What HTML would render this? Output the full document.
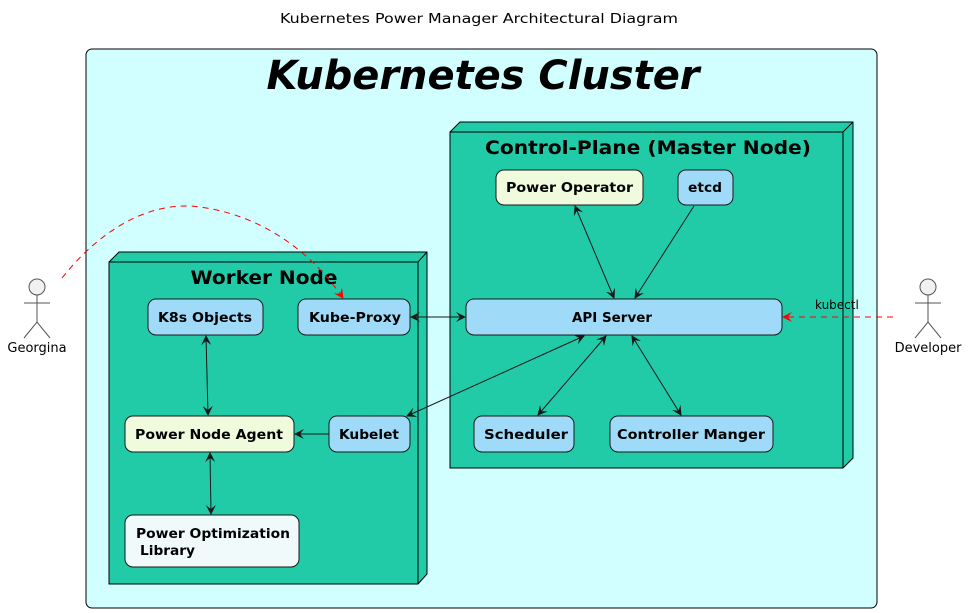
<!DOCTYPE html>
<html><head><meta charset="utf-8"><style>
html,body{margin:0;padding:0;background:#fff;width:971px;height:613px;overflow:hidden}
svg{display:block}
text{font-family:"DejaVu Sans","Liberation Sans",sans-serif}
.b{font-weight:bold;font-size:13px;fill:#000}
</style></head><body>
<svg width="971" height="613" viewBox="0 0 971 613" xmlns="http://www.w3.org/2000/svg">
<defs>
<marker id="a" viewBox="0 0 10 10" refX="9" refY="5" markerWidth="10" markerHeight="10" orient="auto-start-reverse" markerUnits="userSpaceOnUse"><path d="M0,0 L10,5 L0,10 L4,5 Z" fill="#181818"/></marker>
<marker id="r" viewBox="0 0 10 10" refX="9" refY="5" markerWidth="10" markerHeight="10" orient="auto" markerUnits="userSpaceOnUse"><path d="M0,0 L10,5 L0,10 L4,5 Z" fill="#FF0000"/></marker>
</defs>
<text x="479" y="23" text-anchor="middle" font-size="13" textLength="398" lengthAdjust="spacingAndGlyphs">Kubernetes Power Manager Architectural Diagram</text>
<rect x="86" y="49" width="791" height="559" rx="6" fill="#D1FFFF" stroke="#000" stroke-width="1"/>
<text x="483" y="89" text-anchor="middle" font-size="40" font-weight="bold" font-style="italic" textLength="433" lengthAdjust="spacingAndGlyphs">Kubernetes Cluster</text>

<polygon points="109,262 119,252 427,252 427,574 418,584 109,584" fill="#21CBA8" stroke="#000"/>
<polyline points="109,262 418,262 427,252" fill="none" stroke="#000"/>
<line x1="418" y1="262" x2="418" y2="584" stroke="#000"/>
<text x="264" y="284" text-anchor="middle" font-size="19" font-weight="bold" textLength="147" lengthAdjust="spacingAndGlyphs">Worker Node</text>

<polygon points="450,132 460,122 853,122 853,458 843,468 450,468" fill="#21CBA8" stroke="#000"/>
<polyline points="450,132 843,132 853,122" fill="none" stroke="#000"/>
<line x1="843" y1="132" x2="843" y2="468" stroke="#000"/>
<text x="648" y="154" text-anchor="middle" font-size="19" font-weight="bold" textLength="326" lengthAdjust="spacingAndGlyphs">Control-Plane (Master Node)</text>

<g stroke="#181818" stroke-width="1">
<rect x="148" y="299" width="115" height="36" rx="8" fill="#9FDAF9"/>
<rect x="298" y="299" width="112" height="36" rx="8" fill="#9FDAF9"/>
<rect x="125" y="416" width="169" height="36" rx="8" fill="#F0FADC"/>
<rect x="329" y="416" width="81" height="36" rx="8" fill="#9FDAF9"/>
<rect x="125" y="515" width="174" height="52" rx="8" fill="#F0FAFA"/>
<rect x="496" y="170" width="147" height="35" rx="8" fill="#F0FADC"/>
<rect x="678" y="170" width="55" height="35" rx="8" fill="#9FDAF9"/>
<rect x="466" y="299" width="316" height="36" rx="8" fill="#9FDAF9"/>
<rect x="474" y="416" width="100" height="36" rx="8" fill="#9FDAF9"/>
<rect x="610" y="416" width="163" height="36" rx="8" fill="#9FDAF9"/>
</g>
<g class="b" font-weight="bold" font-size="13" lengthAdjust="spacingAndGlyphs">
<text class="b" x="158" y="322" textLength="94" lengthAdjust="spacingAndGlyphs">K8s Objects</text>
<text class="b" x="309" y="322" textLength="92" lengthAdjust="spacingAndGlyphs">Kube-Proxy</text>
<text class="b" x="135" y="439" textLength="148" lengthAdjust="spacingAndGlyphs">Power Node Agent</text>
<text class="b" x="339" y="439" textLength="60" lengthAdjust="spacingAndGlyphs">Kubelet</text>
<text class="b" x="136" y="538" textLength="154" lengthAdjust="spacingAndGlyphs">Power Optimization</text>
<text class="b" x="140" y="555" textLength="55" lengthAdjust="spacingAndGlyphs">Library</text>
<text class="b" x="506" y="192" textLength="127" lengthAdjust="spacingAndGlyphs">Power Operator</text>
<text class="b" x="688" y="192" textLength="34" lengthAdjust="spacingAndGlyphs">etcd</text>
<text class="b" x="572" y="322" textLength="80" lengthAdjust="spacingAndGlyphs">API Server</text>
<text class="b" x="484" y="439" textLength="84" lengthAdjust="spacingAndGlyphs">Scheduler</text>
<text class="b" x="617" y="439" textLength="148" lengthAdjust="spacingAndGlyphs">Controller Manger</text>
</g>

<g stroke="#181818" stroke-width="1" fill="none">
<line x1="206" y1="336" x2="208" y2="415" marker-start="url(#a)" marker-end="url(#a)"/>
<line x1="210" y1="453" x2="211" y2="514" marker-start="url(#a)" marker-end="url(#a)"/>
<line x1="329" y1="434" x2="295" y2="434" marker-end="url(#a)"/>
<line x1="411" y1="317" x2="465" y2="317" marker-start="url(#a)" marker-end="url(#a)"/>
<line x1="584" y1="336" x2="407" y2="416" marker-start="url(#a)" marker-end="url(#a)"/>
<line x1="575" y1="206" x2="614" y2="298" marker-start="url(#a)" marker-end="url(#a)"/>
<line x1="694" y1="206" x2="635" y2="298" marker-end="url(#a)"/>
<line x1="606" y1="336" x2="538" y2="415" marker-start="url(#a)" marker-end="url(#a)"/>
<line x1="632" y1="336" x2="681" y2="415" marker-start="url(#a)" marker-end="url(#a)"/>
</g>
<path d="M62,278 C100,230 150,200 200,207 C260,215 310,250 343,298" fill="none" stroke="#FF0000" stroke-dasharray="6,5" marker-end="url(#r)"/>
<line x1="893" y1="317" x2="783" y2="317" stroke="#FF0000" stroke-dasharray="6,5" marker-end="url(#r)"/>
<text x="815" y="309" font-size="12">kubectl</text>

<g stroke="#555" fill="none">
<circle cx="37" cy="287" r="8" fill="#F1F1F1"/>
<line x1="37" y1="295" x2="37" y2="322"/><line x1="24" y1="303" x2="50" y2="303"/>
<polyline points="24,338 37,322 50,338"/>
<circle cx="928" cy="287" r="8" fill="#F1F1F1"/>
<line x1="928" y1="295" x2="928" y2="322"/><line x1="915" y1="303" x2="941" y2="303"/>
<polyline points="915,338 928,322 941,338"/>
</g>
<text x="37" y="352" text-anchor="middle" font-size="13">Georgina</text>
<text x="928" y="352" text-anchor="middle" font-size="13">Developer</text>
</svg>
</body></html>
